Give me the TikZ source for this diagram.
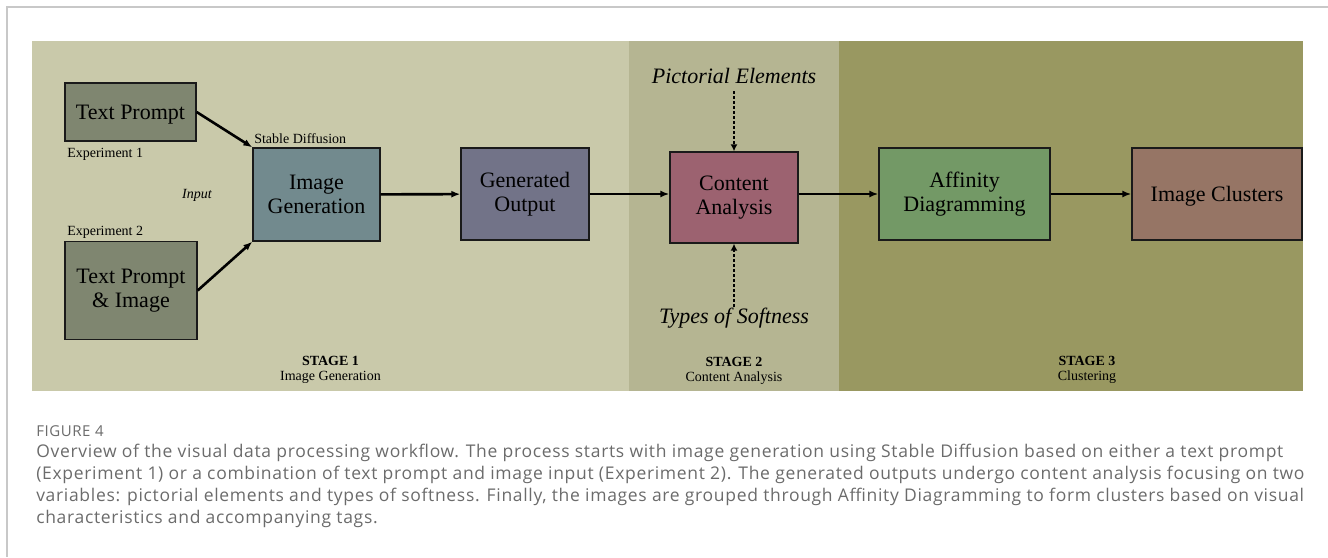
\documentclass[tikz,border=0pt]{standalone}
\usepackage{fontspec}
\setmainfont{Liberation Serif}
\newfontfamily\capfont[LetterSpace=3.9]{Open Sans}
\usetikzlibrary{arrows.meta,positioning}

\definecolor{stageone}{HTML}{C9C9AA}
\definecolor{stagetwo}{HTML}{B5B592}
\definecolor{stagethree}{HTML}{999861}
\definecolor{promptfill}{HTML}{7F8670}
\definecolor{genfill}{HTML}{728A8E}
\definecolor{outfill}{HTML}{727388}
\definecolor{contentfill}{HTML}{9C6270}
\definecolor{affinityfill}{HTML}{739966}
\definecolor{clusterfill}{HTML}{967565}
\definecolor{boxline}{HTML}{1A1A1A}
\definecolor{framegray}{HTML}{C8C8C8}
\definecolor{capgray}{HTML}{6B6B6B}

\begin{document}
\begin{tikzpicture}[x=1pt, y=-1pt, ->, >={Latex[length=9pt,width=7pt]}, line width=2.6pt,
    main node/.style={rectangle, draw=boxline, line width=1.3pt, inner sep=0pt, align=center, font=\fontsize{22}{24.5}\selectfont},
    side node/.style={inner sep=0pt, font=\fontsize{22}{24}\selectfont\itshape},
    small node/.style={inner sep=0pt, font=\fontsize{14}{15}\selectfont}]
        \useasboundingbox (0,0) rectangle (1328,557);

        % stage panels
        \fill[stageone] (32,41) rectangle (629,391);
        \fill[stagetwo] (629,41) rectangle (839,391);
        \fill[stagethree] (839,41) rectangle (1303,391);
        \draw[-, framegray, line width=1.5pt] (1328,7) -- (7,7) -- (7,557);

          \node[main node, fill=promptfill, minimum width=131pt, minimum height=58pt, text depth=0pt] (1) at (130.5,112) {Text Prompt};
          \node[main node, fill=promptfill, minimum width=132pt, minimum height=98pt] (2) at (131,290.5) {Text Prompt\\\& Image};
          \node[main node, fill=genfill, minimum width=127pt, minimum height=93pt] (3) at (316.5,194.5) {Image\\Generation};
          \node[main node, fill=outfill, minimum width=128pt, minimum height=92pt] (4) at (525,194) {Generated\\Output};
          \node[main node, fill=contentfill, minimum width=128pt, minimum height=91pt] (5) at (734,197.5) {Content\\Analysis};
          \node[main node, fill=affinityfill, minimum width=171pt, minimum height=92pt] (6) at (964.5,194) {Affinity\\Diagramming};
          \node[main node, fill=clusterfill, minimum width=170pt, minimum height=92pt, text depth=0pt] (7) at (1217,194) {Image Clusters};

          \node[side node] (8) at (734,76) {Pictorial Elements};
          \node[side node] (9) at (734,318) {Types of Softness};

          \node[small node, anchor=base west] (e1) at (66,157) {Experiment 1};
          \node[small node, anchor=base west] (e2) at (66,235) {Experiment 2};
          \node[small node, anchor=base west] (sd) at (253,143) {Stable Diffusion};
          \node[small node, font=\fontsize{14}{15}\selectfont\itshape] (in) at (197,195) {Input};

          \node[small node, align=center] (s1) at (330.5,370) {\textbf{STAGE 1}\\Image Generation};
          \node[small node, align=center] (s2) at (734,371) {\textbf{STAGE 2}\\Content Analysis};
          \node[small node, align=center] (s3) at (1087,370) {\textbf{STAGE 3}\\Clustering};

          \path
            (1.east) edge (3.north west)
            (2.east) edge (3.south west)
            (3) edge (4)
            (4) edge (5.west |- 4.east)
            (5.east |- 6.west) edge (6)
            (6) edge (7);

          \path[line width=2.8pt, dash pattern=on 3pt off 2pt, >={Latex[length=7pt,width=7pt]}]
            (8) edge[shorten <=6pt] (5)
            (9) edge (5);

          \node[inner sep=0pt, anchor=base west, text=capgray, font=\capfont\fontsize{15}{18}\selectfont] (fig) at (35,436) {FIGURE 4};
          \node[inner sep=0pt, anchor=north west, align=left, text=capgray, font=\capfont\fontsize{17.5}{22}\selectfont] (cap) at (35,443)
            {Overview of the visual data processing workflow. The process starts with image generation using Stable Diffusion based on either a text prompt\\
             (Experiment 1) or a combination of text prompt and image input (Experiment 2). The generated outputs undergo content analysis focusing on two\\
             variables: pictorial elements and types of softness. Finally, the images are grouped through Affinity Diagramming to form clusters based on visual\\
             characteristics and accompanying tags.};
\end{tikzpicture}
\end{document}
